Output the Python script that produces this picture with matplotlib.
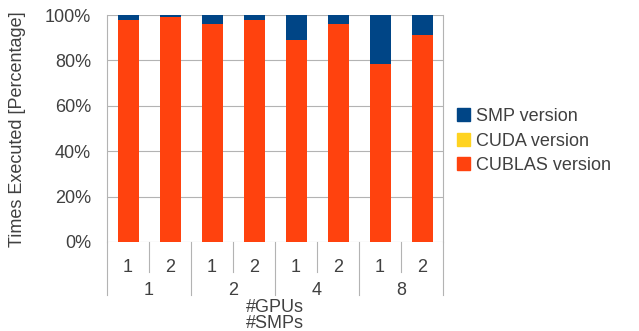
import matplotlib
matplotlib.use('Agg')
import matplotlib.pyplot as plt
from matplotlib.patches import Patch

plt.rcParams['font.family'] = ['Liberation Sans', 'DejaVu Sans']

# configurations: #SMPs per group, #GPUs inside
smps = ['1', '2', '4', '8']
gpus = ['1', '2', '1', '2', '1', '2', '1', '2']
cublas = [97.8, 99.0, 96.2, 97.8, 89.2, 95.9, 78.5, 91.3]
cuda = [0, 0, 0, 0, 0, 0, 0, 0]
smp = [100 - a - b for a, b in zip(cublas, cuda)]

c_smp = '#004586'
c_cuda = '#ffd320'
c_cublas = '#ff420e'
grid_c = '#b3b3b3'
txt_c = '#404040'
fs = 13

fig = plt.figure(figsize=(6.39, 3.31), dpi=100)
ax = fig.add_axes([107/639, 89/331, 336/639, 227/331])

x = list(range(len(gpus)))
ax.bar(x, cublas, width=0.5, color=c_cublas, zorder=3)
ax.bar(x, cuda, width=0.5, bottom=cublas, color=c_cuda, zorder=3)
bot = [a + b for a, b in zip(cublas, cuda)]
ax.bar(x, smp, width=0.5, bottom=bot, color=c_smp, zorder=3)

ax.set_xlim(-0.5, len(gpus) - 0.5)
ax.set_ylim(0, 100)
ax.set_yticks(range(0, 101, 20))
ax.set_yticklabels([f'{v}%' for v in range(0, 101, 20)])
ax.tick_params(axis='y', length=0, pad=11.5, labelsize=fs, labelcolor=txt_c)
ax.set_xticks([])
ax.yaxis.grid(True, color=grid_c, lw=0.8, zorder=0)
ax.set_axisbelow(True)
for s in ['top', 'bottom']:
    ax.spines[s].set_visible(False)
for s in ['left', 'right']:
    ax.spines[s].set_color(grid_c)
    ax.spines[s].set_linewidth(0.8)

# category separators below the axis
tr = ax.get_xaxis_transform()
for i in range(len(gpus) + 1):
    pos = i - 0.5
    depth = -0.233 if i % 2 == 0 else -0.132
    ax.plot([pos, pos], [0, depth], color=grid_c, lw=0.8, transform=tr, clip_on=False)

for i, g in enumerate(gpus):
    ax.text(i, -0.112, g, transform=tr, ha='center', va='center', fontsize=fs, color=txt_c)
for j, s in enumerate(smps):
    ax.text(2 * j + 0.5, -0.213, s, transform=tr, ha='center', va='center', fontsize=fs, color=txt_c)

ax.text(0.5, -0.288, '#GPUs', transform=ax.transAxes, ha='center', va='center', fontsize=fs, color=txt_c)
ax.text(0.5, -0.36, '#SMPs', transform=ax.transAxes, ha='center', va='center', fontsize=fs, color=txt_c)

fig.text(18/639, 1 - 129/331, 'Times Executed [Percentage]', rotation=90,
         ha='center', va='center', fontsize=fs, color=txt_c)

handles = [Patch(color=c_smp, label='SMP version'),
           Patch(color=c_cuda, label='CUDA version'),
           Patch(color=c_cublas, label='CUBLAS version')]
leg = fig.legend(handles=handles, loc='center left', bbox_to_anchor=(457/639, 1 - 141/331),
                 frameon=False, fontsize=fs, borderpad=0, borderaxespad=0,
                 handlelength=0.72, handleheight=0.72, handletextpad=0.35, labelspacing=0.42)
for t in leg.get_texts():
    t.set_color(txt_c)

fig.savefig('out.png', dpi=100)
